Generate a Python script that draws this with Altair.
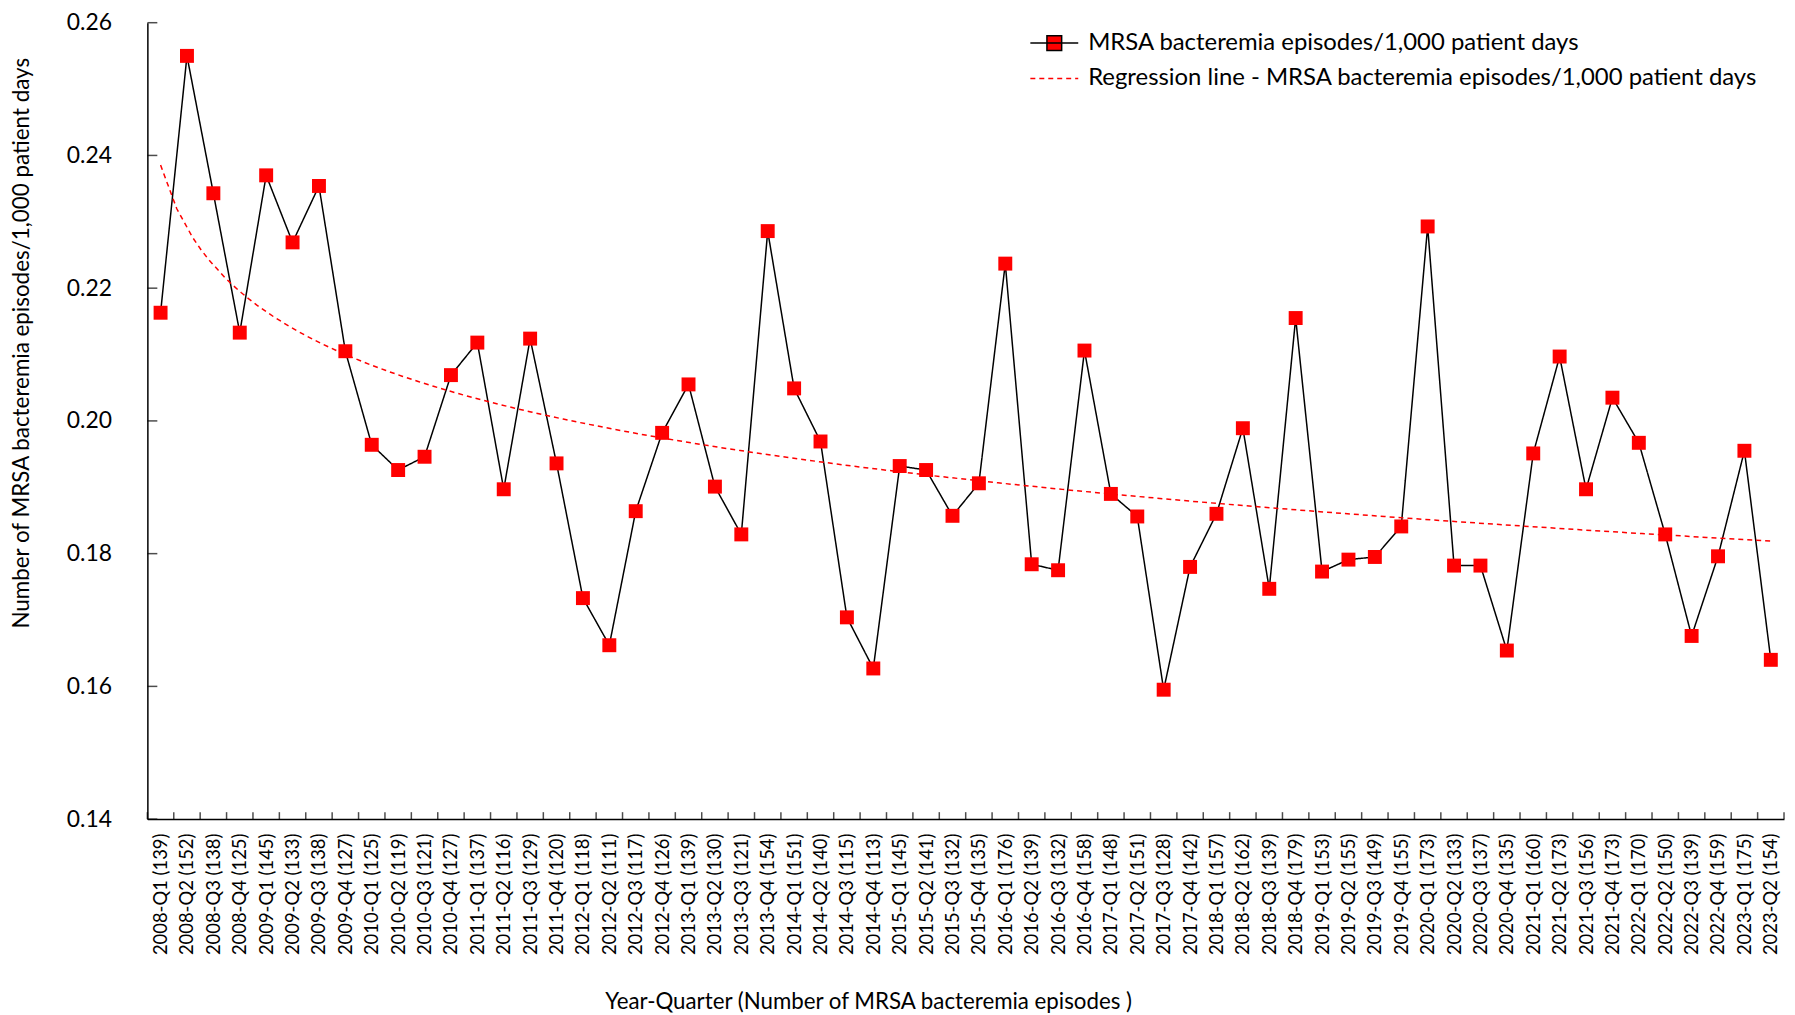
import altair as alt
import pandas as pd

quarters = [
    "2008-Q1", "2008-Q2", "2008-Q3", "2008-Q4",
    "2009-Q1", "2009-Q2", "2009-Q3", "2009-Q4",
    "2010-Q1", "2010-Q2", "2010-Q3", "2010-Q4",
    "2011-Q1", "2011-Q2", "2011-Q3", "2011-Q4",
    "2012-Q1", "2012-Q2", "2012-Q3", "2012-Q4",
    "2013-Q1", "2013-Q2", "2013-Q3", "2013-Q4",
    "2014-Q1", "2014-Q2", "2014-Q3", "2014-Q4",
    "2015-Q1", "2015-Q2", "2015-Q3", "2015-Q4",
    "2016-Q1", "2016-Q2", "2016-Q3", "2016-Q4",
    "2017-Q1", "2017-Q2", "2017-Q3", "2017-Q4",
    "2018-Q1", "2018-Q2", "2018-Q3", "2018-Q4",
    "2019-Q1", "2019-Q2", "2019-Q3", "2019-Q4",
    "2020-Q1", "2020-Q2", "2020-Q3", "2020-Q4",
    "2021-Q1", "2021-Q2", "2021-Q3", "2021-Q4",
    "2022-Q1", "2022-Q2", "2022-Q3", "2022-Q4",
    "2023-Q1", "2023-Q2",
]

episodes = [
    139, 152, 138, 125, 145, 133, 138, 127, 125, 119, 121, 127,
    137, 116, 129, 120, 118, 111, 117, 126, 139, 130, 121, 154,
    151, 140, 115, 113, 145, 141, 132, 135, 176, 139, 132, 158,
    148, 151, 128, 142, 157, 162, 139, 179, 153, 155, 149, 155,
    173, 133, 137, 135, 160, 173, 156, 173, 170, 150, 139, 159,
    175, 154,
]

rates = [
    0.2163, 0.2550, 0.2343, 0.2133, 0.2370, 0.2269, 0.2354, 0.2105,
    0.1964, 0.1926, 0.1946, 0.2069, 0.2118, 0.1897, 0.2124, 0.1936,
    0.1733, 0.1662, 0.1864, 0.1982, 0.2055, 0.1901, 0.1829, 0.2286,
    0.2049, 0.1969, 0.1704, 0.1627, 0.1932, 0.1926, 0.1857, 0.1906,
    0.2237, 0.1784, 0.1775, 0.2106, 0.1890, 0.1856, 0.1595, 0.1780,
    0.1860, 0.1989, 0.1747, 0.2155, 0.1773, 0.1791, 0.1795, 0.1841,
    0.2293, 0.1782, 0.1782, 0.1654, 0.1951, 0.2097, 0.1897, 0.2035,
    0.1967, 0.1829, 0.1676, 0.1796, 0.1955, 0.1640,
]

y_ticks = [0.14, 0.16, 0.18, 0.20, 0.22, 0.24, 0.26]

SERIES_A = "MRSA bacteremia episodes/1,000 patient days"
SERIES_B = "Regression line - MRSA bacteremia episodes/1,000 patient days"
X_TITLE = "Year-Quarter (Number of MRSA bacteremia episodes )"
Y_TITLE = "Number of MRSA bacteremia episodes/1,000 patient days"

FONT = "Lato"
W, H = 1644, 800
n = len(quarters)

labels = [f"{q} ({e})" for q, e in zip(quarters, episodes)]
df = pd.DataFrame({
    "idx": list(range(1, n + 1)),
    "label": labels,
    "rate": rates,
    "series": SERIES_A,
})
xt = pd.DataFrame({"idx": [i + 0.5 for i in range(n + 1)]})
yt = pd.DataFrame({"rate": y_ticks})

label_js = "[" + ",".join(f"'{l}'" for l in labels) + "]"

x_scale = alt.Scale(domain=[0.5, n + 0.5], nice=False, zero=False)
y_scale = alt.Scale(domain=[0.14, 0.26], nice=False, zero=False)
color_scale = alt.Scale(domain=[SERIES_A, SERIES_B], range=["#000000", "#FF0000"])
dash_scale = alt.Scale(domain=[SERIES_A, SERIES_B], range=[[1, 0], [5, 4]])

x_axis = alt.Axis(
    values=list(range(1, n + 1)),
    labelExpr=f"{label_js}[datum.value - 1] || ''",
    labelAngle=270,
    labelFont=FONT, labelFontSize=18.5, labelColor="black",
    labelPadding=14, labelOverlap=False, labelLimit=0,
    ticks=False, tickSize=0,
    domainColor="black", domainWidth=1.5, grid=False,
    title=X_TITLE, titleFont=FONT, titleFontSize=22.4, titleFontWeight="normal",
    titleColor="black", titleX=724, titleY=183, titleBaseline="middle",
)
y_axis = alt.Axis(
    values=y_ticks, format=".2f",
    labelFont=FONT, labelFontSize=23, labelColor="black",
    labelPadding=36, ticks=False, tickSize=0,
    domainColor="black", domainWidth=1.5, grid=False,
    title=Y_TITLE, titleFont=FONT, titleFontSize=22.5, titleFontWeight="normal",
    titleColor="black", titleX=-126, titleY=321.5, titleAngle=270,
    titleBaseline="middle",
)

legend = alt.Legend(
    title=None, orient="none", legendX=891.5, legendY=1, padding=0,
    labelFont=FONT, labelFontSize=24, labelColor="black", labelLimit=0,
    labelOffset=14.5, rowPadding=3.5,
    symbolSize=1369, symbolStrokeWidth=1.5,
    symbolType=alt.ExprRef(
        expr=f"datum.value == '{SERIES_A}' ? 'M-1.3,0H1.3M-0.4,-0.4H0.4V0.4H-0.4Z' : 'M-1.3,0H1.3'"
    ),
    symbolFillColor=alt.ExprRef(
        expr=f"datum.value == '{SERIES_A}' ? '#FF0000' : 'transparent'"
    ),
)

X = alt.X("idx:Q", scale=x_scale, axis=x_axis)
Y = alt.Y("rate:Q", scale=y_scale, axis=y_axis)

base = alt.Chart(df)

line = base.mark_line(strokeWidth=1.5).encode(
    x=X, y=Y,
    color=alt.Color("series:N", scale=color_scale, legend=legend),
    strokeDash=alt.StrokeDash("series:N", scale=dash_scale, legend=legend),
)

reg = base.transform_regression("idx", "rate", method="log").transform_calculate(
    series=f"'{SERIES_B}'"
).mark_line(strokeWidth=1.5).encode(
    x=X, y=Y,
    color=alt.Color("series:N", scale=color_scale, legend=legend),
    strokeDash=alt.StrokeDash("series:N", scale=dash_scale, legend=legend),
)

points = base.mark_point(
    shape="square", filled=True, size=196, color="#FF0000", opacity=1
).encode(x=X, y=Y)

x_ticks = alt.Chart(xt).mark_tick(
    orient="vertical", color="black", size=7, thickness=1.5
).encode(x=X, y=alt.value(H - 3.5))

y_tick_marks = alt.Chart(yt).mark_tick(
    orient="horizontal", color="black", size=10, thickness=1.5
).encode(y=Y, x=alt.value(5))

chart = alt.layer(line, reg, points, x_ticks, y_tick_marks).properties(
    width=W, height=H,
    autosize=alt.AutoSizeParams(type="none"),
    padding={"left": 140, "top": 12.5, "right": 3, "bottom": 196},
    background="white",
).configure_view(stroke=None)

chart.save("out.html", embed_options={"renderer": "svg", "actions": False})
